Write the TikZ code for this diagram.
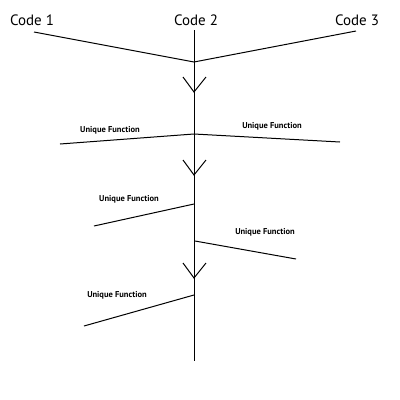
\documentclass[tikz,border=0pt]{standalone}
\usepackage{fontspec}
\setmainfont{PT Sans}
\usetikzlibrary{positioning}
\tikzset{
  code/.style={font=\fontsize{15}{18}\selectfont, inner sep=0pt},
  func/.style={font=\bfseries\fontsize{8.5}{10}\selectfont, inner sep=0pt},
  line/.style={draw, line width=1pt},
  vee/.style={draw, line width=1pt},
}
\begin{document}
\begin{tikzpicture}[x=1pt,y=-1pt]
    \useasboundingbox (0,0) rectangle (400,400);
    % labels at the top
    \node[code] (c1) at (32,20) {Code 1};
    \node[code] (c2) at (196,20) {Code 2};
    \node[code] (c3) at (357,20) {Code 3};
    % main stem
    \coordinate (top) at (194,30);
    \coordinate (bot) at (194,361);
    \draw[line] (top) -- (bot);
    % inputs
    \coordinate (in1) at (34,32);
    \coordinate (in3) at (356,31);
    \coordinate (j0) at (194,62);
    \draw[line] (in1) -- (j0) -- (in3);
    % arrow marks on the stem
    \foreach \y [count=\i] in {77,160,263}{
      \coordinate (va\i) at (183,\y);
      \coordinate (vt\i) at (194,\y+15);
      \coordinate (vb\i) at (206,\y);
      \draw[vee] (va\i) -- (vt\i) -- (vb\i);
    }
    % first pair of branches
    \coordinate (j1) at (194,134);
    \coordinate (l1) at (60,144);
    \coordinate (r1) at (340,142);
    \draw[line] (l1) -- (j1) -- (r1);
    \node[func] (f1) at (110,130) {Unique Function};
    \node[func] (f2) at (272,126) {Unique Function};
    % single branches
    \coordinate (j2) at (194,204);
    \coordinate (l2) at (94,226);
    \draw[line] (j2) -- (l2);
    \node[func] (f3) at (129,199) {Unique Function};
    \coordinate (j3) at (195,241);
    \coordinate (r3) at (296,259);
    \draw[line] (j3) -- (r3);
    \node[func] (f4) at (265,232) {Unique Function};
    \coordinate (j4) at (194,295);
    \coordinate (l4) at (84,326);
    \draw[line] (j4) -- (l4);
    \node[func] (f5) at (117,295) {Unique Function};
\end{tikzpicture}
\end{document}
